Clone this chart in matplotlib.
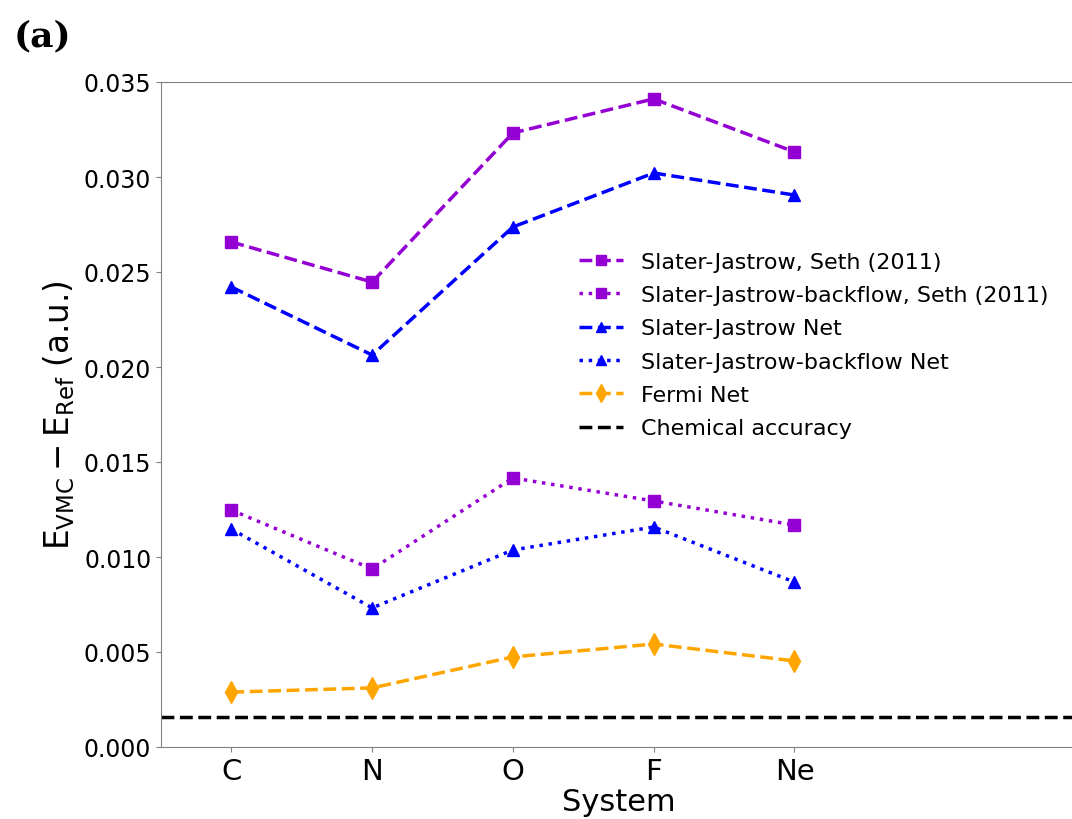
import matplotlib.pyplot as plt
import numpy as np

systems = ['C', 'N', 'O', 'F', 'Ne']
sj_seth = [0.02658, 0.02447, 0.03232, 0.03411, 0.03132]
sjb_seth = [0.01247, 0.00937, 0.01416, 0.01295, 0.01168]
sj_net = [0.02421, 0.02063, 0.02737, 0.03021, 0.02905]
sjb_net = [0.01147, 0.00732, 0.01037, 0.01158, 0.00868]
fermi_net = [0.00289, 0.00311, 0.00474, 0.00542, 0.00453]
chem_acc = 0.0016

x = np.arange(len(systems))

fig = plt.figure(figsize=(10.72, 8.2), dpi=100)
ax = fig.add_axes([161/1072, 1-748/820, (1076-161)/1072, (748-83)/820])

lw = 2.5
ax.plot(x, sj_seth, ls='--', marker='s', color='darkviolet', lw=lw, ms=9,
        label='Slater-Jastrow, Seth (2011)')
ax.plot(x, sjb_seth, ls=':', marker='s', color='darkviolet', lw=lw, ms=9,
        label='Slater-Jastrow-backflow, Seth (2011)')
ax.plot(x, sj_net, ls='--', marker='^', color='blue', lw=lw, ms=9,
        label='Slater-Jastrow Net')
ax.plot(x, sjb_net, ls=':', marker='^', color='blue', lw=lw, ms=9,
        label='Slater-Jastrow-backflow Net')
ax.plot(x, fermi_net, ls='--', marker='d', color='orange', lw=lw, ms=11,
        label='Fermi Net')
ax.axhline(chem_acc, ls='--', color='black', lw=lw, label='Chemical accuracy')

ax.set_xlim(-0.5, 6.0)
ax.set_ylim(0, 0.035)
ax.set_xticks(x)
ax.set_xticklabels(systems, fontsize=21)
ax.set_yticks(np.arange(0, 0.0351, 0.005))
ax.yaxis.set_major_formatter(plt.FormatStrFormatter('%.3f'))
ax.tick_params(axis='y', labelsize=17, color='gray')
ax.tick_params(axis='x', color='gray')
for sp in ax.spines.values():
    sp.set_color('gray')

ax.set_xlabel('System', fontsize=22, labelpad=2)
ax.set_ylabel(r'$\mathrm{E_{VMC} - E_{Ref}}$ (a.u.)', fontsize=23.5, labelpad=5)

ax.legend(loc='upper left', bbox_to_anchor=(0.435, 0.775), frameon=False,
          fontsize=16, handlelength=2.0, labelspacing=0.6, markerscale=0.8)

fig.text(0.013, 0.943, '(a)', fontsize=26, fontweight='bold', family='DejaVu Serif')

fig.savefig('out.png', dpi=100)
